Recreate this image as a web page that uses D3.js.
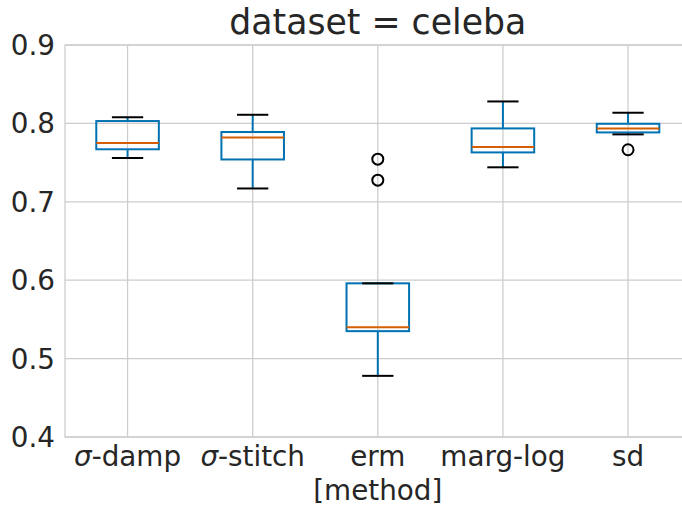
<!DOCTYPE html>
<html>
<head>
<meta charset="utf-8">
<script src="https://cdn.jsdelivr.net/npm/d3@7"></script>
<style>
  body { margin: 0; background: #fff; }
  text { font-family: "DejaVu Sans", sans-serif; fill: #262626; }
</style>
</head>
<body>
<svg id="chart" width="682" height="506"></svg>
<script>
// box plot stats
let methods = ["σ-damp", "σ-stitch", "erm", "marg-log", "sd"];
let whiskLow = [0.756, 0.717, 0.478, 0.744, 0.786];
let q1 = [0.767, 0.754, 0.535, 0.763, 0.7885];
let median = [0.775, 0.782, 0.540, 0.770, 0.7936];
let q3 = [0.803, 0.789, 0.596, 0.7936, 0.7995];
let whiskHigh = [0.808, 0.811, 0.596, 0.828, 0.8136];
let fliers = [[], [], [0.7544, 0.7276], [], [0.7664]];
let yTicks = [0.4, 0.5, 0.6, 0.7, 0.8, 0.9];

let svg = d3.select("#chart");
let mLeft = 65, mRight = 690.6, mTop = 45, mBottom = 437;

let x = d3.scaleLinear().domain([0.5, 5.5]).range([mLeft, mRight]);
let y = d3.scaleLinear().domain([0.4, 0.9]).range([mBottom, mTop]);

let boxes = methods.map((m, i) => ({
    name: m, pos: i + 1,
    lo: whiskLow[i], q1: q1[i], med: median[i], q3: q3[i], hi: whiskHigh[i],
    fliers: fliers[i]
}));

//? grid
let grid = svg.append("g").attr("stroke", "#cccccc").attr("stroke-width", 1.25);
grid.selectAll("line.h").data(yTicks).enter().append("line")
    .attr("x1", mLeft).attr("x2", mRight)
    .attr("y1", d => y(d)).attr("y2", d => y(d));
grid.selectAll("line.v").data(boxes).enter().append("line")
    .attr("x1", d => x(d.pos)).attr("x2", d => x(d.pos))
    .attr("y1", mTop).attr("y2", mBottom);
grid.append("rect").attr("x", mLeft).attr("y", mTop)
    .attr("width", mRight - mLeft).attr("height", mBottom - mTop)
    .attr("fill", "none");

//? y axis labels
svg.append("g").selectAll("text").data(yTicks).enter().append("text")
    .attr("x", 55).attr("y", d => y(d) + 10)
    .attr("text-anchor", "end").attr("font-size", 27.8)
    .text(d => d3.format(".1f")(d));

//? x tick labels (sigma in italic like mathtext)
let xt = svg.append("g").selectAll("text").data(boxes).enter().append("text")
    .attr("x", d => x(d.pos)).attr("y", 466)
    .attr("text-anchor", "middle").attr("font-size", 27.8);
xt.each(function (d) {
    let t = d3.select(this);
    if (d.name.startsWith("σ")) {
        t.append("tspan").attr("font-style", "italic").text("σ");
        t.append("tspan").text(d.name.slice(1));
    } else {
        t.text(d.name);
    }
});

svg.append("text").attr("x", x(3)).attr("y", 500)
    .attr("text-anchor", "middle").attr("font-size", 27.8).text("[method]");

svg.append("text").attr("x", x(3)).attr("y", 34)
    .attr("text-anchor", "middle").attr("font-size", 34.7).text("dataset = celeba");

//? boxes
let bw = 0.25, cw = 0.125;
let g = svg.append("g").selectAll("g").data(boxes).enter().append("g");

g.append("line").attr("stroke", "#0072B2").attr("stroke-width", 2)
    .attr("x1", d => x(d.pos)).attr("x2", d => x(d.pos))
    .attr("y1", d => y(d.q3)).attr("y2", d => y(d.hi));
g.append("line").attr("stroke", "#0072B2").attr("stroke-width", 2)
    .attr("x1", d => x(d.pos)).attr("x2", d => x(d.pos))
    .attr("y1", d => y(d.q1)).attr("y2", d => y(d.lo));
g.append("rect").attr("fill", "none").attr("stroke", "#0072B2").attr("stroke-width", 2)
    .attr("x", d => x(d.pos - bw)).attr("width", d => x(d.pos + bw) - x(d.pos - bw))
    .attr("y", d => y(d.q3)).attr("height", d => y(d.q1) - y(d.q3));
g.append("line").attr("stroke", "black").attr("stroke-width", 2)
    .attr("x1", d => x(d.pos - cw)).attr("x2", d => x(d.pos + cw))
    .attr("y1", d => y(d.hi)).attr("y2", d => y(d.hi));
g.append("line").attr("stroke", "black").attr("stroke-width", 2)
    .attr("x1", d => x(d.pos - cw)).attr("x2", d => x(d.pos + cw))
    .attr("y1", d => y(d.lo)).attr("y2", d => y(d.lo));
g.append("line").attr("stroke", "#D55E00").attr("stroke-width", 2)
    .attr("x1", d => x(d.pos - bw)).attr("x2", d => x(d.pos + bw))
    .attr("y1", d => y(d.med)).attr("y2", d => y(d.med));
g.selectAll("circle").data(d => d.fliers.map(v => ({ pos: d.pos, v: v }))).enter()
    .append("circle")
    .attr("cx", d => x(d.pos)).attr("cy", d => y(d.v)).attr("r", 5.5)
    .attr("fill", "none").attr("stroke", "black").attr("stroke-width", 2);
</script>
</body>
</html>
